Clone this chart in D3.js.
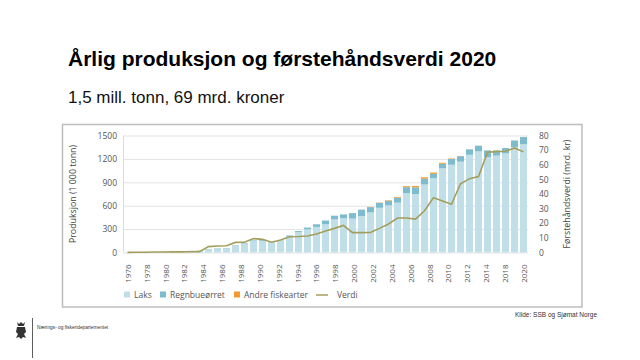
<!DOCTYPE html>
<html><head><meta charset="utf-8">
<script src="https://cdn.jsdelivr.net/npm/d3@7"></script>
<style>body{margin:0;background:#fff}svg{display:block}</style>
</head><body>
<svg id="c" width="640" height="360"></svg>
<script>
const years = d3.range(1976, 2021).map(String);
const totals = [1.5,3.5,4.5,5,8,13,15,22,25,45,55,58,95,122,155,160,128,155,218,275,320,362,410,472,488,505,550,585,640,670,712,850,852,965,1025,1150,1205,1237,1323,1370,1310,1310,1340,1437,1481];
const regnbue = [0.3,0.5,0.6,0.6,0.8,1,1.5,2,2.5,3,4,4,5,6,8,9,6,5,14,14,22,34,48,48,49,71,83,68,63,59,63,77,85,74,55,58,74,71,69,73,87,67,68,83,92];
const andre = [0,0,0,0,0,0,0,0,0,0,0,0,0,0,0,0,0,0,0,0,0,0,0,0,0,0,1,3,4,7,10,12,17,19,17,12,6,2,1,1,1,1,1,1,1];
const laks = totals.map((t,i)=>t-regnbue[i]-andre[i]);
const verdi = [0.1,0.2,0.2,0.3,0.3,0.4,0.4,0.5,0.6,4.0,4.4,4.6,6.9,7.0,9.5,9.0,7.0,8.5,10.8,10.9,11.3,12.6,14.7,16.5,18.5,13.6,13.6,13.7,16.5,19.5,23.6,23.6,22.8,28.5,37.5,35.2,33.0,47.0,50.5,52.0,68.5,69.0,69.2,71.5,68.8];
const tickLabels = ["1976","1978","1980","1982","1984","1986","1988","1990","1992","1994","1996","1998","2000","2002","2004","2006","2008","2010","2012","2014","2018","2020"];
const leftTicks = [0,300,600,900,1200,1500];
const rightTicks = [0,10,20,30,40,50,60,70,80];
const seriesNames = ["Laks","Regnbueørret","Andre fiskearter"];
const colors = {"Laks":"#c0dfe9","Regnbueørret":"#7dbccf","Andre fiskearter":"#f29a2e","Verdi":"#a39e5c"};

const svg = d3.select("#c");
const L=123, R=528, T=135.5, B=252.5;
const x = d3.scaleBand().domain(years).range([L,R]).paddingInner(0.22).paddingOuter(0.11);
const xl = d3.scalePoint().domain(tickLabels).range([x(years[0])+x.bandwidth()/2, x(years[years.length-1])+x.bandwidth()/2]);
const y = d3.scaleLinear().domain([0,1500]).range([B,T]);
const y2 = d3.scaleLinear().domain([0,80]).range([B,T]);

// title
svg.append("text").attr("x",68).attr("y",66).attr("font-family","Liberation Sans, Arial, sans-serif").attr("font-weight","bold").attr("font-size",21).attr("fill","#000").text("Årlig produksjon og førstehåndsverdi 2020");
svg.append("text").attr("x",68).attr("y",103).attr("font-family","Liberation Sans, Arial, sans-serif").attr("font-size",17).attr("fill","#111").text("1,5 mill. tonn, 69 mrd. kroner");

// chart box
svg.append("rect").attr("x",62.5).attr("y",124.5).attr("width",519.5).attr("height",182.5).attr("fill","none").attr("stroke","#bdbdbd").attr("stroke-width",1.5);

// grid
svg.append("g").selectAll("line").data(leftTicks).join("line")
  .attr("x1",L).attr("x2",R).attr("y1",d=>y(d)+0.5).attr("y2",d=>y(d)+0.5).attr("stroke","#e3e3e3").attr("stroke-width",1);
svg.append("line").attr("x1",L+0.5).attr("x2",L+0.5).attr("y1",T).attr("y2",B).attr("stroke","#dcdcdc");

// stacked bars
const data = years.map((yr,i)=>({year:yr,"Laks":laks[i],"Regnbueørret":regnbue[i],"Andre fiskearter":andre[i]}));
const stack = d3.stack().keys(seriesNames)(data);
svg.append("g").selectAll("g").data(stack).join("g").attr("fill",d=>colors[d.key])
  .selectAll("rect").data(d=>d).join("rect")
  .attr("x",d=>x(d.data.year)).attr("width",x.bandwidth())
  .attr("y",d=>y(d[1])).attr("height",d=>Math.max(0,y(d[0])-y(d[1])));

// line
const line = d3.line().x((d,i)=>x(years[i])+x.bandwidth()/2).y(d=>y2(d));
svg.append("path").datum(verdi).attr("d",line).attr("fill","none").attr("stroke",colors.Verdi).attr("stroke-width",1.6);

const tf = "Open Sans, Noto Sans, sans-serif";
// left axis
const ya = svg.append("g").attr("transform",`translate(${L},0)`).call(d3.axisLeft(y).tickValues(leftTicks).tickFormat(d3.format("d")).tickSize(0).tickPadding(6));
ya.select(".domain").remove();
ya.selectAll("text").attr("font-family",tf).attr("font-size",8.5).attr("fill","#555");
// right axis
const yb = svg.append("g").attr("transform",`translate(${R},0)`).call(d3.axisRight(y2).tickValues(rightTicks).tickFormat(d3.format("d")).tickSize(0).tickPadding(11));
yb.select(".domain").remove();
yb.selectAll("text").attr("font-family",tf).attr("font-size",8.5).attr("fill","#555");
// x axis labels
const xa = svg.append("g").attr("transform",`translate(0,${B})`).call(d3.axisBottom(xl).tickSize(0));
xa.select(".domain").remove();
xa.selectAll("text").attr("font-family",tf).attr("font-size",8).attr("fill","#555")
  .attr("transform","rotate(-90)").attr("text-anchor","end").attr("x",-12).attr("y",0).attr("dy","0.35em");

// axis titles
svg.append("text").attr("transform",`translate(76,194) rotate(-90)`).attr("text-anchor","middle").attr("font-family",tf).attr("font-size",8.8).attr("fill","#444").text("Produksjon (1 000 tonn)");
svg.append("text").attr("transform",`translate(570,194) rotate(-90)`).attr("text-anchor","middle").attr("font-family",tf).attr("font-size",8.8).attr("fill","#444").text("Førstehåndsverdi (mrd. kr)");

// legend
const leg = svg.append("g").attr("font-family",tf).attr("font-size",8.5).attr("fill","#555");
const legItems = [{k:"Laks",x:124},{k:"Regnbueørret",x:160},{k:"Andre fiskearter",x:234}];
legItems.forEach(it=>{
  leg.append("rect").attr("x",it.x).attr("y",291.5).attr("width",6).attr("height",6).attr("fill",colors[it.k]);
  leg.append("text").attr("x",it.x+10).attr("y",297.5).text(it.k);
});
leg.append("line").attr("x1",316).attr("x2",328).attr("y1",295).attr("y2",295).attr("stroke",colors.Verdi).attr("stroke-width",1.5);
leg.append("text").attr("x",337).attr("y",297.5).text("Verdi");

// source
svg.append("text").attr("x",515).attr("y",317).attr("font-family","Liberation Sans, Arial, sans-serif").attr("font-size",6.5).attr("fill","#333").text("Kilde: SSB og Sjømat Norge");

// footer
svg.append("line").attr("x1",32.5).attr("x2",32.5).attr("y1",318).attr("y2",358).attr("stroke","#333").attr("stroke-width",0.8);
const logo = svg.append("g").attr("transform","translate(16,322)").attr("fill","#333");
logo.append("path").attr("d","M1,0 L3,2 L5,0 L7,2 L9,0 L8,4 L2,4 Z M1,5 L9,5 L10,10 L8,12 L10,16 L7,15 L5,17 L3,15 L0,16 L2,12 L0,10 Z");
svg.append("text").attr("x",37).attr("y",329).attr("font-family","Liberation Sans, Arial, sans-serif").attr("font-size",4.8).attr("fill","#333").text("Nærings- og fiskeridepartementet");
</script>
</body></html>
